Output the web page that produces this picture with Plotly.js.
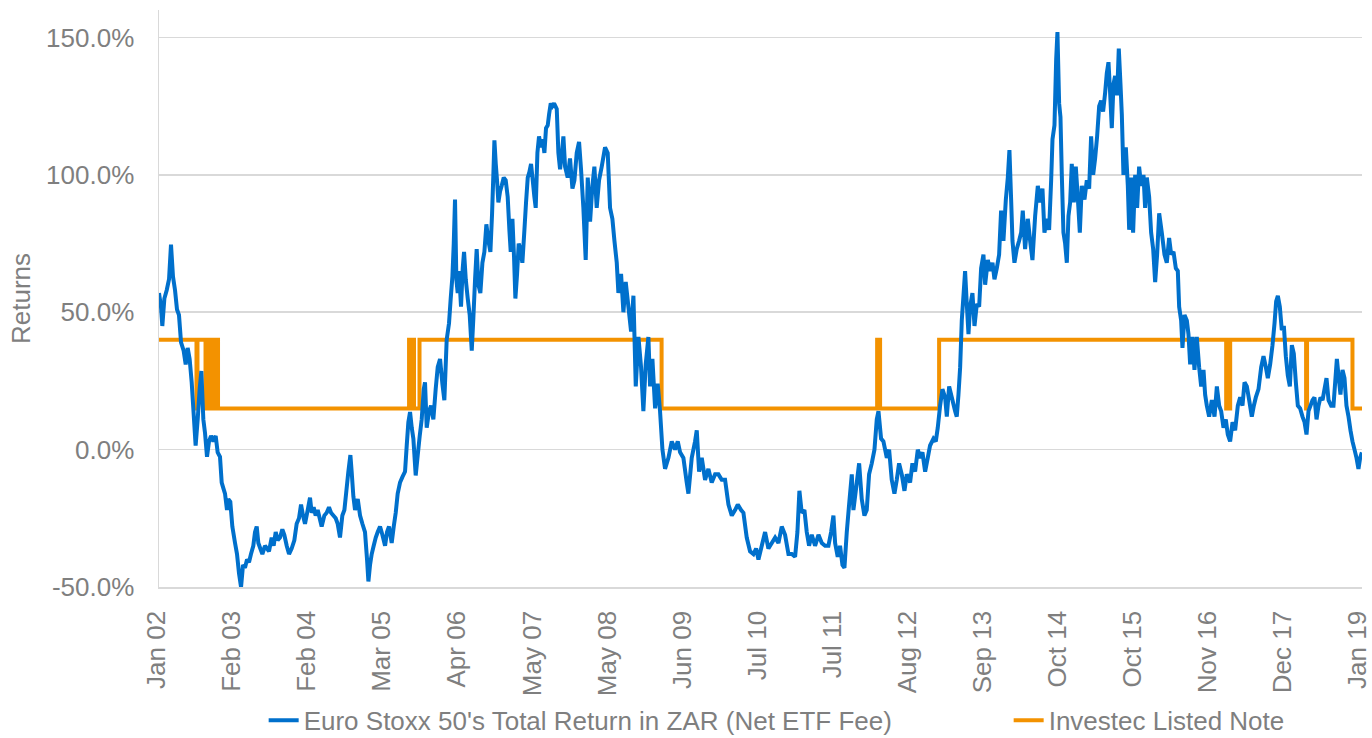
<!DOCTYPE html>
<html>
<head>
<meta charset="utf-8">
<script src="https://cdn.plot.ly/plotly-3.0.1.min.js"></script>
<style>
  html, body { margin: 0; padding: 0; background: #ffffff; }
  #chart { width: 1372px; height: 738px; }
</style>
</head>
<body>
<div id="chart"></div>
<script>
// ---------- Tick labels ----------
const xTickLabels = ['Jan 02','Feb 03','Feb 04','Mar 05','Apr 06','May 07','May 08','Jun 09','Jul 10','Jul 11','Aug 12','Sep 13','Oct 14','Oct 15','Nov 16','Dec 17','Jan 19'];
const xStartYear = 2002;
const xEndYear = 2019;
const yTickValues = [-50, 0, 50, 100, 150];
const yTickLabels = ['-50.0%', '0.0%', '50.0%', '100.0%', '150.0%'];

// ---------- Euro Stoxx 50's Total Return in ZAR (Net ETF Fee), % (time as decimal year) ----------
const euroTime2002 = [2002.000,2002.028,2002.047,2002.076,2002.109,2002.142,2002.170,2002.198,2002.227,2002.255,2002.283,2002.312,2002.349,2002.378,2002.406,2002.434,2002.463,2002.491,2002.519,2002.548,2002.576,2002.600,2002.628,2002.652,2002.680,2002.708,2002.737,2002.770,2002.803,2002.831,2002.864,2002.888,2002.911,2002.935,2002.963,2002.982,2003.010,2003.039,2003.077,2003.105,2003.133,2003.162,2003.190,2003.218,2003.247,2003.275,2003.303,2003.336,2003.360,2003.384,2003.407,2003.435,2003.464,2003.501,2003.530,2003.558,2003.596,2003.624,2003.653,2003.681,2003.714,2003.747,2003.775,2003.809,2003.842,2003.879,2003.917,2003.950,2003.983,2004.012,2004.040,2004.068,2004.106,2004.139,2004.163,2004.191,2004.219,2004.248,2004.276,2004.304,2004.342,2004.375,2004.408,2004.437,2004.470,2004.503,2004.531,2004.564,2004.597,2004.626,2004.654,2004.682,2004.711,2004.729,2004.753,2004.777];
const euroRet2002 = [57,52,45,55,58,62,74.6,63,58,51,49,39,36,31,37,33,24.5,13,1.5,11,22,28.6,11,6,-2.6,3,5,3,5,-1,-2.6,-12,-14,-16,-22,-18,-19,-28,-34,-38,-45,-50,-42,-43,-40,-41,-38,-35,-30,-28,-34,-36,-38,-35,-36,-37,-32,-35,-30,-33,-32,-29,-31,-35,-38,-36,-33,-27,-25,-20,-24,-27,-22,-17.5,-23,-21,-24,-22,-25,-28,-24,-23,-21,-23,-24,-25,-27,-32,-24,-22,-15,-8,-2,-8,-17,-22];

const euroTime2005 = [2004.815,2004.848,2004.881,2004.918,2004.947,2004.966,2004.989,2005.013,2005.041,2005.070,2005.098,2005.131,2005.164,2005.202,2005.230,2005.258,2005.296,2005.325,2005.353,2005.381,2005.414,2005.447,2005.485,2005.509,2005.532,2005.556,2005.580,2005.603,2005.636,2005.665,2005.693,2005.721,2005.750,2005.768,2005.792,2005.825,2005.853,2005.886,2005.919,2005.948,2005.981,2006.014,2006.042,2006.075,2006.108,2006.132,2006.156,2006.175,2006.193,2006.212,2006.231,2006.250,2006.278,2006.302,2006.321,2006.345,2006.373,2006.401,2006.430,2006.453,2006.477,2006.500,2006.524,2006.552,2006.581,2006.609,2006.637,2006.666,2006.694,2006.718,2006.736,2006.751,2006.770,2006.788,2006.807,2006.831,2006.854,2006.883,2006.911,2006.939,2006.963,2006.982,2007.006,2007.029,2007.048,2007.072,2007.095,2007.119,2007.147,2007.176,2007.199,2007.223,2007.246,2007.270,2007.294,2007.317,2007.336,2007.360,2007.383,2007.412,2007.435,2007.459,2007.482,2007.506,2007.525,2007.549,2007.572,2007.596];
const euroRet2005 = [-18,-24,-27,-30,-40,-48,-42,-38,-35,-32,-30,-28,-31,-35,-30,-28,-34,-28,-23,-16,-12,-10,-8,1.5,10,13.7,8,4,-9.4,-2,5,11,22,24.5,8,14,16,11,22,30,33,24,18,40,46,55,63,75,91,62,57,65,52,66,72,62,55,49,36,48,62,73,60,57,68,72,82,76,72,86,100,112.6,104,98,90,94,96,99,98,92,80,72,84,70,55,64,75,73,68,80,90,99,101,104,98,92,88,108,114,110,113,108,117,118,122,126,125,126];

const euroTime2008 = [2007.634,2007.657,2007.681,2007.704,2007.728,2007.752,2007.789,2007.822,2007.856,2007.884,2007.917,2007.950,2007.978,2008.011,2008.044,2008.073,2008.106,2008.139,2008.167,2008.200,2008.233,2008.271,2008.318,2008.356,2008.389,2008.422,2008.451,2008.484,2008.507,2008.545,2008.578,2008.611,2008.649,2008.687,2008.720,2008.753,2008.791,2008.828,2008.861,2008.894,2008.932,2008.956,2008.989,2009.027,2009.064,2009.097,2009.131,2009.168,2009.216,2009.263,2009.310,2009.348,2009.381,2009.428,2009.475,2009.499,2009.546,2009.593,2009.617,2009.650,2009.688,2009.735,2009.782,2009.829,2009.877,2009.924,2009.971,2010.018,2010.066,2010.113,2010.160,2010.198,2010.245,2010.278,2010.325,2010.372,2010.420];
const euroRet2008 = [124,108,102,107,114,103,99,106,95,98,108,112,102,88,69,99,83,96,103,88,98,103,110,108,88,84,76,68,57,64,50,61,52,43,56,23,41,30,14,31,41,23,33,15,24,14,0,-7,-3,3,0,3,-1,-3,-12,-16,-3,3,7,-8,-3,-11,-7,-12,-9,-9,-11,-11,-20,-24,-22,-20,-22,-23,-32,-37,-38];

const euroTime2011 = [2010.458,2010.491,2010.538,2010.585,2010.632,2010.680,2010.727,2010.774,2010.821,2010.868,2010.916,2010.963,2011.010,2011.043,2011.071,2011.104,2011.142,2011.175,2011.208,2011.246,2011.293,2011.341,2011.388,2011.435,2011.482,2011.520,2011.553,2011.577,2011.614,2011.647,2011.681,2011.709,2011.742,2011.775,2011.813,2011.836,2011.884,2011.917,2011.954,2011.992,2012.025,2012.058,2012.096,2012.134,2012.167,2012.191,2012.228,2012.261,2012.309,2012.342,2012.379,2012.417,2012.450,2012.483,2012.521,2012.559,2012.592,2012.639,2012.672,2012.710,2012.748,2012.781,2012.814,2012.852,2012.889,2012.922,2012.970,2013.003,2013.031,2013.064,2013.097,2013.135,2013.159,2013.192,2013.230,2013.277];
const euroRet2011 = [-36,-40,-35,-30,-36,-34,-32,-34,-28,-31,-38,-38,-39,-30,-15,-23,-22,-30,-35,-31,-35,-31,-34,-35,-35,-30,-24,-34,-39,-35,-42,-43,-30,-20,-9,-22,-12,-5,-18,-24,-22,-9,-5,0,11,14,4,3,-3,0,-11,-16,-11,-5,-9,-15,-9,-12,-5,-8,0,-3,-1,-8,-3,1.5,4,3,8,16,22,19,12,23,19,14];

const euroTime2014 = [2013.300,2013.324,2013.348,2013.371,2013.395,2013.418,2013.442,2013.466,2013.489,2013.522,2013.551,2013.584,2013.617,2013.645,2013.678,2013.702,2013.740,2013.773,2013.806,2013.834,2013.867,2013.900,2013.928,2013.961,2013.995,2014.023,2014.046,2014.070,2014.089,2014.117,2014.150,2014.183,2014.212,2014.235,2014.268,2014.306,2014.339,2014.372,2014.410,2014.448,2014.481,2014.514,2014.542,2014.575,2014.608,2014.637,2014.656,2014.684,2014.708,2014.726,2014.750,2014.769,2014.788,2014.811,2014.835,2014.859,2014.882,2014.906,2014.929,2014.958,2014.986,2015.014,2015.043,2015.071,2015.109,2015.142,2015.175,2015.203,2015.232,2015.260,2015.288,2015.317,2015.345,2015.373,2015.402,2015.425,2015.449,2015.472,2015.496,2015.520,2015.543,2015.572,2015.595,2015.619,2015.638,2015.661,2015.695,2015.723,2015.742,2015.770,2015.798,2015.827,2015.855,2015.883,2015.912,2015.945,2015.968,2015.992,2016.025,2016.053,2016.082,2016.110,2016.138,2016.167];
const euroRet2014 = [12,20,30,47,56,65,53,42,52,57,45,53,52,66,71,60,69,65,68,62,66,71,87,76,91,99,109,91,76,68,73,76,79,87,73,84,76,69,85,96,90,95,79,84,80,98,113,118,142,152,126,121,100,79,75,68,85,90,104,90,103,92,79,96,91,98,95,114,100,106,114,125,127,123,130,137,141,130,117,133,136,129,146,133,122,100,110,96,80,99,79,100,88,103,96,100,88,99,92,79,73,61,71,86];

const euroTime2017 = [2016.204,2016.242,2016.275,2016.308,2016.337,2016.370,2016.403,2016.431,2016.450,2016.478,2016.497,2016.526,2016.559,2016.582,2016.606,2016.639,2016.667,2016.700,2016.733,2016.762,2016.795,2016.818,2016.842,2016.875,2016.913,2016.951,2016.984,2017.017,2017.045,2017.078,2017.111,2017.139,2017.172,2017.206,2017.243,2017.281,2017.314,2017.347,2017.376,2017.409,2017.442,2017.479,2017.508,2017.536,2017.574,2017.612,2017.645,2017.678,2017.706,2017.739,2017.772,2017.801,2017.824,2017.848,2017.876,2017.904,2017.933,2017.961,2017.989,2018.018,2018.046,2018.074,2018.103,2018.131,2018.164,2018.197,2018.226,2018.254,2018.282,2018.311,2018.339,2018.367,2018.396,2018.424,2018.452,2018.481,2018.509,2018.537,2018.566,2018.603,2018.636,2018.660,2018.684,2018.707,2018.735,2018.764,2018.792,2018.820,2018.849,2018.877,2018.905,2018.934,2018.962,2018.990,2019.014,2019.038];
const euroRet2017 = [79,71,68,77,71,72,66,65,52,47,37,49,47,42,31,41,29,41,30,23,29,20,16,12,18,12,23,16,14,8,11,5.5,3,10,7,16,19,16,24.5,23,18,12,16,19,22,30,34,30,26,31,38,46,54,56,52,43.5,45,34,27,23,38,35,24.5,16,15,12,10,5.5,14,16,18,19,11,16,19,18,22,26,18,16,16,24.5,33,27,20,29,26,16,12,7,3,0,-3,-7,-3,-1];

// ---------- Investec Listed Note, % (step series: value holds until next date) ----------
const noteTime = [2002.000,2002.531,2002.545,2002.659,2002.708,2002.751,2002.793,2002.836,2005.542,2005.577,2005.598,2005.612,2005.690,2009.119,2012.172,2012.214,2013.050,2017.116,2017.173,2018.248,2018.262,2018.905,2019.040];
const noteRet  = [40,15,40,15,40,15,40,15,40,15,40,15,40,15,40,15,40,15,40,15,40,15,15];

// ---------- Assemble ----------
const euroTime = [].concat(euroTime2002, euroTime2005, euroTime2008, euroTime2011, euroTime2014, euroTime2017);
const euroRet  = [].concat(euroRet2002, euroRet2005, euroRet2008, euroRet2011, euroRet2014, euroRet2017);

const tickStep = (xEndYear - xStartYear) / (xTickLabels.length - 1);
const xTickVals = xTickLabels.map((_, i) => xStartYear + i * tickStep);

const gray = '#7f7f7f';
const fontFam = 'Liberation Sans, Arial, sans-serif';

const traces = [
  {
    type: 'scatter', mode: 'lines',
    name: 'Investec Listed Note',
    x: noteTime, y: noteRet,
    line: { color: '#F39200', width: 4, shape: 'hv', simplify: false },
    legendrank: 2,
    legendwidth: 260
  },
  {
    type: 'scatter', mode: 'lines',
    name: "Euro Stoxx 50's Total Return in ZAR (Net ETF Fee)",
    x: euroTime, y: euroRet,
    line: { color: '#0070CC', width: 4, simplify: false },
    legendrank: 1,
    legendwidth: 700
  }
];

const layout = {
  width: 1372, height: 738,
  paper_bgcolor: '#ffffff', plot_bgcolor: '#ffffff',
  font: { family: fontFam, size: 26, color: gray },
  margin: { l: 159, r: 10, t: 10, b: 151 },
  showlegend: true,
  legend: {
    orientation: 'h',
    x: 0.087, xanchor: 'left',
    yref: 'container', y: 0.024, yanchor: 'middle',
    font: { family: fontFam, size: 26, color: gray },
    bgcolor: 'rgba(0,0,0,0)'
  },
  xaxis: {
    type: 'linear',
    range: [2002, 2019.04],
    tickmode: 'array', tickvals: xTickVals, ticktext: xTickLabels,
    tickangle: -90,
    ticks: '', showgrid: false, zeroline: false,
    showline: true, linecolor: '#d9d9d9', linewidth: 1.5,
    tickfont: { family: fontFam, size: 26, color: gray },
    ticklabelstandoff: 12,
    ticklabelshift: -2,
    ticklabeloverflow: 'allow'
  },
  yaxis: {
    range: [-50, 160],
    tickmode: 'array', tickvals: yTickValues, ticktext: yTickLabels,
    ticks: '', showgrid: true, gridcolor: '#d9d9d9', gridwidth: 1.5,
    zeroline: false,
    showline: true, linecolor: '#d9d9d9', linewidth: 1.5,
    tickfont: { family: fontFam, size: 26, color: gray },
    ticklabelstandoff: 18,
    title: { text: 'Returns', font: { family: fontFam, size: 26, color: gray }, standoff: 8 }
  }
};

Plotly.newPlot('chart', traces, layout, { displayModeBar: false, staticPlot: true });
</script>
</body>
</html>
